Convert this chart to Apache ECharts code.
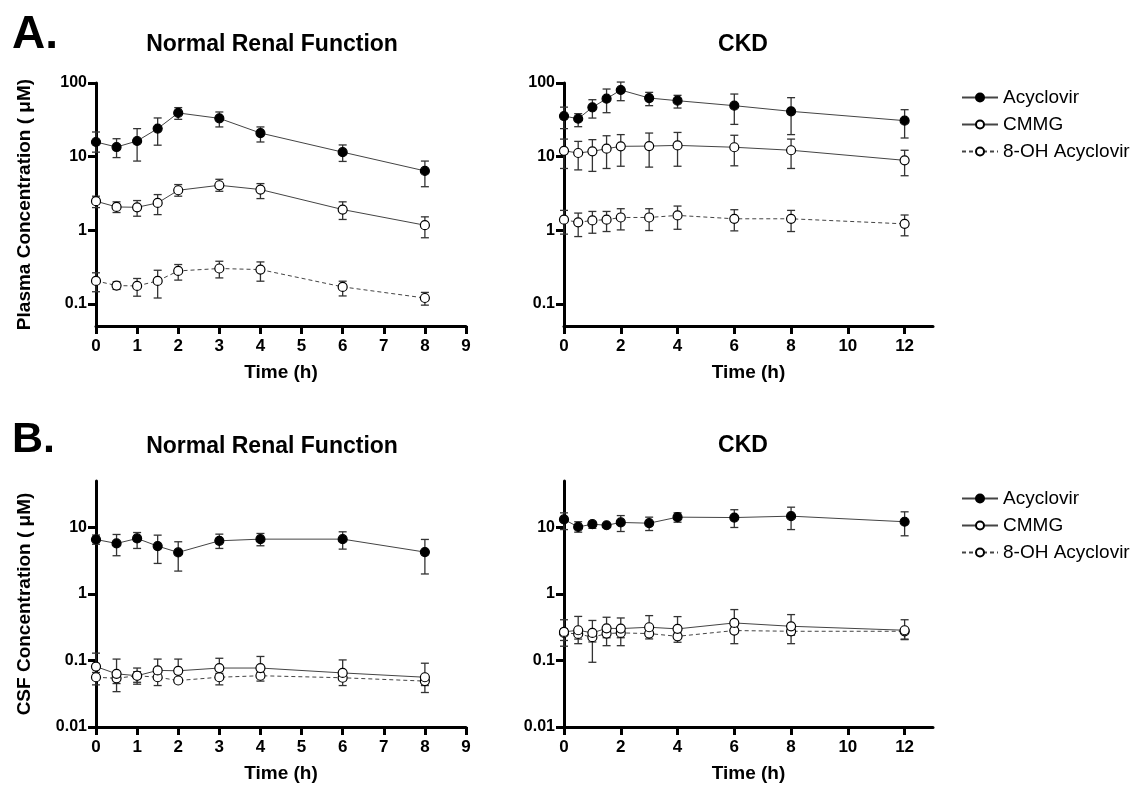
<!DOCTYPE html>
<html>
<head>
<meta charset="utf-8">
<script src="https://cdn.jsdelivr.net/npm/echarts@6/dist/echarts.min.js"></script>
<style>
html,body{margin:0;padding:0;background:#fff;}
#chart{width:1137px;height:785px;}
</style>
</head>
<body>
<div id="chart"></div>
<script>
// ---------- Data ----------
const seriesNames = ['Acyclovir', 'CMMG', '8-OH Acyclovir'];
const timesNormal = [0, 0.5, 1, 1.5, 2, 3, 4, 6, 8];
const timesCKD = [0, 0.5, 1, 1.5, 2, 3, 4, 6, 8, 12];
const xTicksNormal = [0, 1, 2, 3, 4, 5, 6, 7, 8, 9];
const xTicksCKD = [0, 2, 4, 6, 8, 10, 12];
const yTicksPlasma = [0.1, 1, 10, 100];
const yTicksCSF = [0.01, 0.1, 1, 10];

// A. Plasma, normal renal function
const plasmaNormalAcy = [15.8, 13.5, 16.3, 24, 39.2, 33.1, 20.9, 11.5, 6.4];
const plasmaNormalAcyHi = [21.6, 17.5, 24, 33.5, 46.3, 40.4, 25.3, 14.4, 8.7];
const plasmaNormalAcyLo = [11.5, 9.7, 8.7, 14.3, 32.1, 25.3, 15.8, 8.6, 3.9];
const plasmaNormalCMMG = [2.48, 2.07, 2.05, 2.35, 3.49, 4.08, 3.57, 1.91, 1.17];
const plasmaNormalCMMGHi = [2.9, 2.43, 2.53, 3.05, 4.17, 4.92, 4.3, 2.43, 1.52];
const plasmaNormalCMMGLo = [2.03, 1.74, 1.55, 1.63, 2.9, 3.38, 2.69, 1.40, 0.79];
const plasmaNormalOH = [0.205, 0.177, 0.175, 0.205, 0.28, 0.302, 0.292, 0.170, 0.12];
const plasmaNormalOHHi = [0.264, 0.199, 0.221, 0.286, 0.342, 0.379, 0.371, 0.203, 0.143];
const plasmaNormalOHLo = [0.146, 0.157, 0.127, 0.12, 0.21, 0.225, 0.203, 0.128, 0.096];

// A. Plasma, CKD
const plasmaCKDAcy = [35.6, 32.7, 46.7, 61.2, 80.3, 62.5, 57.5, 49.2, 41.2, 30.8];
const plasmaCKDAcyHi = [47, 38.3, 59.3, 82.8, 103, 74.6, 68, 70.8, 63.2, 43.4];
const plasmaCKDAcyLo = [24, 25.5, 33.4, 39.5, 57.5, 49.2, 45.7, 27.4, 19.9, 17.9];
const plasmaCKDCMMG = [12.0, 11.2, 11.8, 12.8, 13.8, 13.9, 14.2, 13.4, 12.2, 8.9];
const plasmaCKDCMMGHi = [17.3, 16.1, 17, 19.2, 19.9, 20.9, 21.3, 19.5, 17.3, 12.2];
const plasmaCKDCMMGLo = [6.9, 6.6, 6.3, 6.9, 7.4, 7.2, 7.4, 7.5, 6.9, 5.5];
const plasmaCKDOH = [1.39, 1.28, 1.36, 1.39, 1.49, 1.49, 1.59, 1.43, 1.43, 1.22];
const plasmaCKDOHHi = [1.86, 1.71, 1.80, 1.80, 1.96, 1.96, 2.13, 1.90, 1.86, 1.61];
const plasmaCKDOHLo = [0.885, 0.82, 0.91, 0.96, 1.01, 0.99, 1.03, 0.98, 0.96, 0.84];

// B. CSF, normal renal function
const csfNormalAcy = [6.6, 5.75, 6.84, 5.25, 4.22, 6.31, 6.68, 6.68, 4.27];
const csfNormalAcyHi = [7.7, 7.85, 8.4, 7.67, 6.1, 7.94, 8.13, 8.61, 6.61];
const csfNormalAcyLo = [5.6, 3.76, 4.84, 2.88, 2.21, 4.84, 5.31, 4.73, 2.0];
const csfNormalCMMG = [0.081, 0.063, 0.059, 0.071, 0.070, 0.077, 0.077, 0.065, 0.056];
const csfNormalCMMGHi = [0.129, 0.105, 0.077, 0.105, 0.105, 0.108, 0.115, 0.102, 0.091];
const csfNormalCMMGLo = [0.061, 0.045, 0.047, 0.055, 0.055, 0.060, 0.060, 0.050, 0.042];
const csfNormalOH = [0.056, 0.054, 0.059, 0.056, 0.050, 0.056, 0.059, 0.055, 0.049];
const csfNormalOHHi = [0.066, 0.064, 0.068, 0.066, 0.054, 0.064, 0.066, 0.063, 0.056];
const csfNormalOHLo = [0.043, 0.034, 0.044, 0.042, 0.047, 0.043, 0.049, 0.042, 0.033];

// B. CSF, CKD
const csfCKDAcy = [13.2, 10.2, 11.2, 10.8, 11.9, 11.6, 14.3, 14.1, 14.8, 12.2];
const csfCKDAcyHi = [16.6, 12.2, 12.3, 11.3, 15.1, 14.3, 16.6, 18.5, 20.2, 17.2];
const csfCKDAcyLo = [9.3, 8.5, 9.7, 10.3, 8.7, 9.0, 12.0, 10.0, 9.3, 7.5];
const csfCKDCMMG = [0.269, 0.285, 0.26, 0.305, 0.302, 0.316, 0.299, 0.367, 0.327, 0.285];
const csfCKDCMMGHi = [0.41, 0.46, 0.40, 0.447, 0.436, 0.473, 0.457, 0.583, 0.49, 0.41];
const csfCKDCMMGLo = [0.20, 0.21, 0.19, 0.22, 0.22, 0.24, 0.22, 0.26, 0.24, 0.21];
const csfCKDOH = [0.26, 0.251, 0.224, 0.254, 0.26, 0.254, 0.231, 0.282, 0.275, 0.275];
const csfCKDOHHi = [0.30, 0.30, 0.26, 0.30, 0.30, 0.28, 0.26, 0.33, 0.32, 0.30];
const csfCKDOHLo = [0.164, 0.179, 0.094, 0.167, 0.167, 0.211, 0.188, 0.179, 0.179, 0.206];

// ---------- Styling ----------
const FONT = '"Liberation Sans", Arial, Helvetica, sans-serif';
const LINE_COLOR = '#444';
const BAR_COLOR = '#333';

const panels = [
  { grid: { left: 96, top: 83, width: 370, height: 243 }, times: timesNormal, xMax: 9, xTicks: xTicksNormal,
    yMin: 0.05, yMax: 100, yTicks: yTicksPlasma, yName: 'Plasma Concentration ( \u03bcM)',
    data: [[plasmaNormalAcy, plasmaNormalAcyLo, plasmaNormalAcyHi],
           [plasmaNormalCMMG, plasmaNormalCMMGLo, plasmaNormalCMMGHi],
           [plasmaNormalOH, plasmaNormalOHLo, plasmaNormalOHHi]] },
  { grid: { left: 564, top: 83, width: 369, height: 243 }, times: timesCKD, xMax: 13, xTicks: xTicksCKD,
    yMin: 0.05, yMax: 100, yTicks: yTicksPlasma, yName: '',
    data: [[plasmaCKDAcy, plasmaCKDAcyLo, plasmaCKDAcyHi],
           [plasmaCKDCMMG, plasmaCKDCMMGLo, plasmaCKDCMMGHi],
           [plasmaCKDOH, plasmaCKDOHLo, plasmaCKDOHHi]] },
  { grid: { left: 96, top: 481, width: 370, height: 246 }, times: timesNormal, xMax: 9, xTicks: xTicksNormal,
    yMin: 0.01, yMax: 50, yTicks: yTicksCSF, yName: 'CSF Concentration ( \u03bcM)',
    data: [[csfNormalAcy, csfNormalAcyLo, csfNormalAcyHi],
           [csfNormalCMMG, csfNormalCMMGLo, csfNormalCMMGHi],
           [csfNormalOH, csfNormalOHLo, csfNormalOHHi]] },
  { grid: { left: 564, top: 481, width: 369, height: 246 }, times: timesCKD, xMax: 13, xTicks: xTicksCKD,
    yMin: 0.01, yMax: 50, yTicks: yTicksCSF, yName: '',
    data: [[csfCKDAcy, csfCKDAcyLo, csfCKDAcyHi],
           [csfCKDCMMG, csfCKDCMMGLo, csfCKDCMMGHi],
           [csfCKDOH, csfCKDOHLo, csfCKDOHHi]] }
];

const seriesStyles = [
  { fill: '#000', dash: 'solid' },
  { fill: '#fff', dash: 'solid' },
  { fill: '#fff', dash: [4, 3] }
];

const grids = [], xAxes = [], yAxes = [], series = [];

panels.forEach((p, gi) => {
  grids.push(Object.assign({ containLabel: false }, p.grid));
  xAxes.push({
    type: 'value', gridIndex: gi, min: 0, max: p.xMax,
    name: 'Time (h)', nameLocation: 'middle', nameGap: 37,
    nameTextStyle: { fontFamily: FONT, fontWeight: 'bold', fontSize: 19, color: '#000' },
    splitLine: { show: false },
    axisLine: { show: true, onZero: false, lineStyle: { color: '#000', width: 3 } },
    axisTick: { show: true, length: 8, lineStyle: { color: '#000', width: 3 }, customValues: p.xTicks },
    axisLabel: { fontFamily: FONT, fontWeight: 'bold', fontSize: 17, color: '#000', margin: 12, customValues: p.xTicks }
  });
  yAxes.push({
    type: 'log', logBase: 10, gridIndex: gi, min: p.yMin, max: p.yMax,
    name: p.yName, nameLocation: 'middle', nameGap: 62,
    nameTextStyle: { fontFamily: FONT, fontWeight: 'bold', fontSize: 19, color: '#000' },
    splitLine: { show: false },
    axisLine: { show: true, onZero: false, lineStyle: { color: '#000', width: 3 } },
    axisTick: { show: true, length: 8, lineStyle: { color: '#000', width: 3 }, customValues: p.yTicks },
    axisLabel: { fontFamily: FONT, fontWeight: 'bold', fontSize: 16, color: '#000', margin: 9,
      customValues: p.yTicks, formatter: v => String(+(+v).toPrecision(3)) }
  });

  p.data.forEach((d, si) => {
    const [vals, lo, hi] = d;
    // error bars
    series.push({
      type: 'custom', name: seriesNames[si] + ' SEM', xAxisIndex: gi, yAxisIndex: gi,
      z: 1, clip: false, silent: true,
      encode: { x: 0, y: [1, 2] },
      data: p.times.map((t, i) => [t, lo[i], hi[i]]),
      renderItem: function (params, api) {
        const x = api.value(0);
        const a = api.coord([x, api.value(1)]);
        const b = api.coord([x, api.value(2)]);
        const w = 4;
        const st = { stroke: BAR_COLOR, lineWidth: 1.3 };
        return {
          type: 'group', children: [
            { type: 'line', shape: { x1: a[0], y1: a[1], x2: b[0], y2: b[1] }, style: st },
            { type: 'line', shape: { x1: a[0] - w, y1: a[1], x2: a[0] + w, y2: a[1] }, style: st },
            { type: 'line', shape: { x1: b[0] - w, y1: b[1], x2: b[0] + w, y2: b[1] }, style: st }
          ]
        };
      }
    });
    // mean line + markers
    series.push({
      type: 'line', name: seriesNames[si], xAxisIndex: gi, yAxisIndex: gi, z: 3 + (2 - si),
      data: p.times.map((t, i) => [t, vals[i]]),
      symbol: 'circle', symbolSize: 9, showSymbol: true, clip: false,
      lineStyle: { color: LINE_COLOR, width: 1, type: seriesStyles[si].dash },
      itemStyle: { color: seriesStyles[si].fill, borderColor: '#000', borderWidth: 1.2 },
      emphasis: { disabled: true },
      animation: false
    });
  });
});

const titleStyle = (size) => ({ fontFamily: FONT, fontWeight: 'bold', fontSize: size, color: '#000' });
const legendBase = {
  orient: 'vertical', left: 961, data: seriesNames, padding: 0,
  itemWidth: 36, itemHeight: 10, itemGap: 8, selectedMode: false,
  textStyle: { fontFamily: FONT, fontSize: 19, color: '#000' }
};

const option = {
  animation: false,
  backgroundColor: '#fff',
  title: [
    { text: 'A.', left: 12, top: 12, padding: 0, textStyle: titleStyle(46) },
    { text: 'Normal Renal Function', left: 272, top: 33, padding: 0, textAlign: 'center', textStyle: titleStyle(23) },
    { text: 'CKD', left: 743, top: 33, padding: 0, textAlign: 'center', textStyle: titleStyle(23) },
    { text: 'B.', left: 12, top: 419, padding: 0, textStyle: titleStyle(43) },
    { text: 'Normal Renal Function', left: 272, top: 435, padding: 0, textAlign: 'center', textStyle: titleStyle(23) },
    { text: 'CKD', left: 743, top: 434, padding: 0, textAlign: 'center', textStyle: titleStyle(23) }
  ],
  legend: [
    Object.assign({}, legendBase, { top: 88 }),
    Object.assign({}, legendBase, { top: 489 })
  ],
  grid: grids,
  xAxis: xAxes,
  yAxis: yAxes,
  series: series
};

const chart = echarts.init(document.getElementById('chart'), null, { renderer: 'canvas' });
chart.setOption(option);
</script>
</body>
</html>
